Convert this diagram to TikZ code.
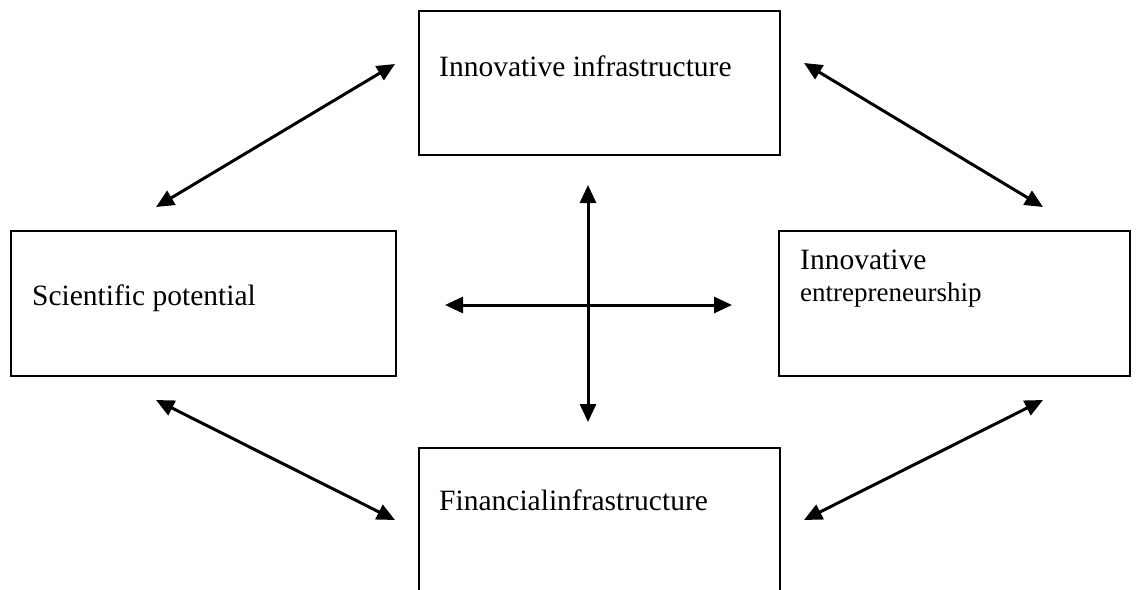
\documentclass[tikz,border=0pt]{standalone}
\usepackage{fontspec}
\setmainfont{Liberation Serif}
\usetikzlibrary{arrows.meta}
\begin{document}
\begin{tikzpicture}[x=1pt,y=-1pt,
  box/.style={draw, line width=2pt, rectangle, inner sep=0pt},
  lbl/.style={anchor=base west, inner sep=0pt, font=\fontsize{29.5}{34}\selectfont},
  lblsmall/.style={anchor=base west, inner sep=0pt, font=\fontsize{27}{32}\selectfont},
  link/.style={line width=3pt, {Triangle[length=18pt,width=16pt]}-{Triangle[length=18pt,width=16pt]}}]
\useasboundingbox (0,0) rectangle (1140,589);
\clip (0,0) rectangle (1140,589);
% boxes
\node[box, minimum width=361pt, minimum height=144pt] (top) at (599.5,83) {};
\node[box, minimum width=385pt, minimum height=145pt] (left) at (203.5,303.5) {};
\node[box, minimum width=351pt, minimum height=145pt] (right) at (954.5,303.5) {};
\node[box, minimum width=361pt, minimum height=144pt] (bottom) at (599.5,520) {};
% texts
\node[lbl] (ttop) at (439,76) {Innovative infrastructure};
\node[lbl] (tleft) at (32,305) {Scientific potential};
\node[lbl] (tright1) at (800,269) {Innovative};
\node[lblsmall] (tright2) at (800,301) {entrepreneurship};
\node[lbl] (tbottom) at (439,510) {Financialinfrastructure};
% arrow end points
\coordinate (a1) at (156,207);
\coordinate (a2) at (395,64);
\coordinate (b1) at (804,63);
\coordinate (b2) at (1043,207);
\coordinate (c1) at (156,400);
\coordinate (c2) at (395,520);
\coordinate (d1) at (804,520);
\coordinate (d2) at (1043,400);
\coordinate (h1) at (445,305);
\coordinate (h2) at (732,305);
\coordinate (v1) at (588,185);
\coordinate (v2) at (588,422);
% connectors
\draw[link] (a1) -- (a2);
\draw[link] (b1) -- (b2);
\draw[link] (c1) -- (c2);
\draw[link] (d1) -- (d2);
\draw[link] (h1) -- (h2);
\draw[link] (v1) -- (v2);
\end{tikzpicture}
\end{document}
